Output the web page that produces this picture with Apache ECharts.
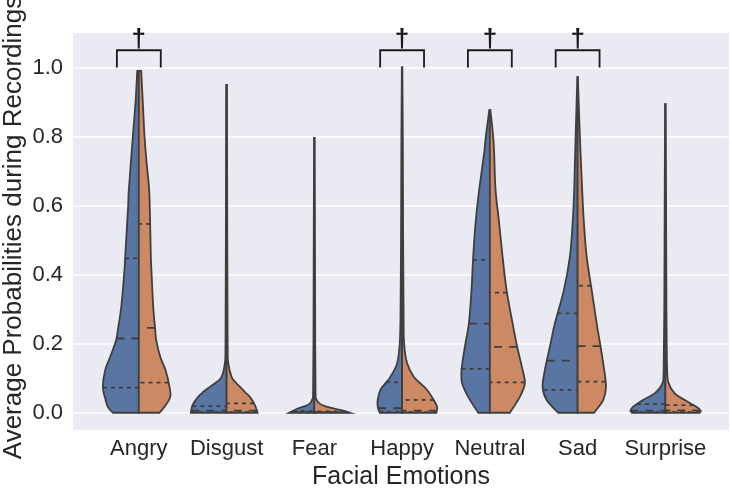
<!DOCTYPE html>
<html><head><meta charset="utf-8">
<script src="https://cdn.jsdelivr.net/npm/echarts@6/dist/echarts.min.js"></script>
<style>html,body{margin:0;padding:0;background:#fff}#c{width:732px;height:489px}</style>
</head><body><div id="c"></div>
<script>
const categories = ['Angry', 'Disgust', 'Fear', 'Happy', 'Neutral', 'Sad', 'Surprise'];
const yTicks = [0.0, 0.2, 0.4, 0.6, 0.8, 1.0];

// Density profiles: [probability value, half-width in category units]
const angryLeft = [[0,0.296],[0.017,0.353],[0.046,0.388],[0.075,0.41],[0.124,0.383],[0.162,0.326],[0.211,0.258],[0.24,0.239],[0.307,0.2],[0.405,0.166],[0.452,0.155],[0.602,0.121],[0.645,0.114],[0.8,0.068],[0.897,0.038],[0.99,0.018]];
const angryRight = [[0,0.236],[0.017,0.293],[0.046,0.358],[0.075,0.35],[0.124,0.304],[0.162,0.244],[0.211,0.198],[0.24,0.187],[0.307,0.164],[0.405,0.145],[0.452,0.137],[0.55,0.129],[0.645,0.118],[0.72,0.09],[0.8,0.065],[0.897,0.046],[0.99,0.027]];
const disgustLeft = [[0,0.407],[0.022,0.388],[0.046,0.324],[0.06,0.267],[0.075,0.19],[0.089,0.114],[0.104,0.057],[0.143,0.02],[0.2,0.012],[0.5,0.008],[0.95,0.004]];
const disgustRight = [[0,0.353],[0.022,0.323],[0.046,0.266],[0.06,0.209],[0.075,0.152],[0.089,0.1],[0.104,0.057],[0.143,0.02],[0.2,0.012],[0.5,0.008],[0.95,0.004]];
const fearLeft = [[0,0.288],[0.006,0.24],[0.013,0.182],[0.02,0.1],[0.027,0.049],[0.04,0.022],[0.06,0.014],[0.2,0.01],[0.5,0.007],[0.796,0.003]];
const fearRight = [[0,0.407],[0.006,0.33],[0.013,0.217],[0.02,0.11],[0.027,0.057],[0.04,0.022],[0.06,0.014],[0.2,0.01],[0.5,0.007],[0.796,0.003]];
const happyLeft = [[0,0.255],[0.017,0.278],[0.037,0.278],[0.066,0.247],[0.085,0.19],[0.104,0.133],[0.143,0.057],[0.2,0.027],[0.28,0.018],[0.5,0.012],[0.8,0.008],[1.0,0.003]];
const happyRight = [[0,0.391],[0.017,0.399],[0.037,0.36],[0.066,0.285],[0.085,0.209],[0.104,0.133],[0.143,0.057],[0.2,0.023],[0.28,0.017],[0.5,0.012],[0.8,0.008],[1.0,0.003]];
const neutralLeft = [[0,0.133],[0.046,0.247],[0.085,0.316],[0.124,0.323],[0.191,0.285],[0.259,0.239],[0.356,0.209],[0.452,0.19],[0.549,0.163],[0.645,0.122],[0.752,0.065],[0.8,0.046],[0.877,0.006]];
const neutralRight = [[0,0.228],[0.046,0.342],[0.085,0.399],[0.124,0.373],[0.191,0.311],[0.259,0.259],[0.356,0.19],[0.452,0.145],[0.549,0.106],[0.645,0.065],[0.752,0.049],[0.8,0.038],[0.877,0.006]];
const sadLeft = [[0,0.221],[0.037,0.353],[0.075,0.399],[0.124,0.373],[0.191,0.316],[0.259,0.259],[0.356,0.156],[0.452,0.088],[0.549,0.057],[0.645,0.039],[0.8,0.023],[0.972,0.003]];
const sadRight = [[0,0.189],[0.037,0.292],[0.075,0.323],[0.124,0.303],[0.191,0.262],[0.259,0.217],[0.356,0.16],[0.452,0.103],[0.549,0.072],[0.645,0.052],[0.8,0.026],[0.972,0.003]];
const surpriseLeft = [[0,0.381],[0.006,0.399],[0.017,0.369],[0.037,0.255],[0.056,0.122],[0.085,0.034],[0.124,0.02],[0.3,0.012],[0.6,0.008],[0.894,0.003]];
const surpriseRight = [[0,0.391],[0.006,0.402],[0.017,0.353],[0.037,0.22],[0.056,0.106],[0.085,0.038],[0.124,0.02],[0.3,0.012],[0.6,0.008],[0.894,0.003]];

const leftProfiles = [angryLeft, disgustLeft, fearLeft, happyLeft, neutralLeft, sadLeft, surpriseLeft];
const rightProfiles = [angryRight, disgustRight, fearRight, happyRight, neutralRight, sadRight, surpriseRight];

// Quartiles [Q1, median, Q3] for each half
const leftQuartiles = [[0.073,0.215,0.447],[0.002,0.006,0.019],[0.001,0.002,0.005],[0.003,0.013,0.088],[0.127,0.258,0.443],[0.066,0.151,0.288],[0.002,0.006,0.025]];
const rightQuartiles = [[0.087,0.246,0.547],[0.002,0.006,0.027],[0.001,0.002,0.004],[0.002,0.006,0.037],[0.088,0.191,0.348],[0.09,0.193,0.368],[0.002,0.007,0.022]];

// Significance annotations
const sigCategories = ['Angry', 'Happy', 'Neutral', 'Sad'];
const sigMark = '\u2020';
const bracketBase = 1.0, bracketTop = 1.05, bracketHalf = 0.25, markLevel = 1.08;

const COL_L = '#5975A4', COL_R = '#CC8963', EDGE = '#3f3f3f';
const FONT = "'Liberation Sans', Arial, sans-serif";

function widthAt(prof, v) {
  if (v <= prof[0][0]) return prof[0][1];
  for (let k = 1; k < prof.length; k++) {
    if (v <= prof[k][0]) {
      const a = prof[k-1], b = prof[k];
      return a[1] + (b[1]-a[1]) * (v - a[0]) / (b[0] - a[0]);
    }
  }
  return prof[prof.length-1][1];
}

function halfPath(api, i, prof, sign) {
  const pts = prof.map(p => api.coord([i + sign * p[1], p[0]]));
  const cb = api.coord([i, prof[0][0]]);
  const ct = api.coord([i, prof[prof.length-1][0]]);
  let d = 'M' + cb[0] + ' ' + cb[1] + ' L' + pts[0][0] + ' ' + pts[0][1];
  const n = pts.length;
  for (let k = 0; k < n - 1; k++) {
    const p0 = pts[Math.max(k-1,0)], p1 = pts[k], p2 = pts[k+1], p3 = pts[Math.min(k+2,n-1)];
    const c1 = [p1[0] + (p2[0]-p0[0])/6, p1[1] + (p2[1]-p0[1])/6];
    const c2 = [p2[0] - (p3[0]-p1[0])/6, p2[1] - (p3[1]-p1[1])/6];
    d += ' C' + c1[0] + ' ' + c1[1] + ' ' + c2[0] + ' ' + c2[1] + ' ' + p2[0] + ' ' + p2[1];
  }
  d += ' L' + ct[0] + ' ' + ct[1] + ' Z';
  return d;
}

function quartLines(api, i, prof, q, sign) {
  const out = [];
  q.forEach((v, k) => {
    const w = widthAt(prof, v);
    const a = api.coord([i + sign * w, v]);
    const b = api.coord([i, v]);
    const med = k === 1;
    out.push({
      type: 'line', z2: 5,
      shape: { x1: a[0], y1: a[1], x2: b[0], y2: b[1] },
      style: { stroke: EDGE, lineWidth: 1.8, lineDash: med ? [8, 7] : [4, 4], fill: null }
    });
  });
  return out;
}

const chart = echarts.init(document.getElementById('c'), null, { renderer: 'canvas' });
chart.setOption({
  animation: false,
  backgroundColor: '#ffffff',
  grid: { left: 73, right: 3, top: 33, bottom: 59, show: true, backgroundColor: '#EAEAF2', borderWidth: 0, outerBoundsMode: 'none', containLabel: false },
  xAxis: {
    type: 'value', min: -0.75, max: 6.725,
    name: 'Facial Emotions', nameLocation: 'middle', nameGap: 35, nameMoveOverlap: false,
    nameTextStyle: { fontFamily: FONT, fontSize: 25, color: '#262626' },
    axisLine: { show: false }, axisTick: { show: false, customValues: [0,1,2,3,4,5,6] },
    splitLine: { show: false },
    axisLabel: { customValues: [0,1,2,3,4,5,6], formatter: v => categories[Math.round(v)], fontFamily: FONT, fontSize: 22, color: '#262626', margin: 8 }
  },
  yAxis: {
    type: 'value', min: -0.05, max: 1.1,
    name: 'Average Probabilities during Recordings', nameLocation: 'middle', nameGap: 46, nameMoveOverlap: false,
    nameTextStyle: { fontFamily: FONT, fontSize: 26, color: '#262626', padding: [0, 0, 0, 8] },
    axisLine: { show: false }, axisTick: { show: false, customValues: yTicks },
    splitLine: { show: true, lineStyle: { color: '#ffffff', width: 1.5 } },
    axisLabel: { customValues: yTicks, formatter: v => v.toFixed(1), fontFamily: FONT, fontSize: 22, color: '#262626', margin: 10 }
  },
  series: [
    {
      type: 'custom', clip: false,
      data: categories.map((c, i) => [i]),
      renderItem: function (params, api) {
        const i = params.dataIndex;
        const children = [];
        children.push({ type: 'path', shape: { pathData: halfPath(api, i, leftProfiles[i], -1) },
          style: { fill: COL_L, stroke: EDGE, lineWidth: 1.8, lineJoin: 'miter' } });
        children.push({ type: 'path', shape: { pathData: halfPath(api, i, rightProfiles[i], 1) },
          style: { fill: COL_R, stroke: EDGE, lineWidth: 1.8, lineJoin: 'miter' } });
        quartLines(api, i, leftProfiles[i], leftQuartiles[i], -1).forEach(e => children.push(e));
        quartLines(api, i, rightProfiles[i], rightQuartiles[i], 1).forEach(e => children.push(e));
        return { type: 'group', children };
      }
    },
    {
      type: 'custom', clip: false,
      data: sigCategories.map(c => [categories.indexOf(c)]),
      renderItem: function (params, api) {
        const i = api.value(0);
        const a = api.coord([i - bracketHalf, bracketBase]);
        const b = api.coord([i - bracketHalf, bracketTop]);
        const c = api.coord([i + bracketHalf, bracketTop]);
        const d = api.coord([i + bracketHalf, bracketBase]);
        const t = api.coord([i, markLevel]);
        return { type: 'group', children: [
          { type: 'polyline', shape: { points: [a, b, c, d] }, style: { stroke: '#1a1a1a', lineWidth: 1.8, fill: null } },
          { type: 'text', x: t[0], y: t[1], style: { text: sigMark, fontFamily: FONT, fontSize: 26, fontWeight: 'bold', fill: '#1a1a1a', align: 'center', verticalAlign: 'middle' } }
        ]};
      }
    }
  ]
});
</script></body></html>
